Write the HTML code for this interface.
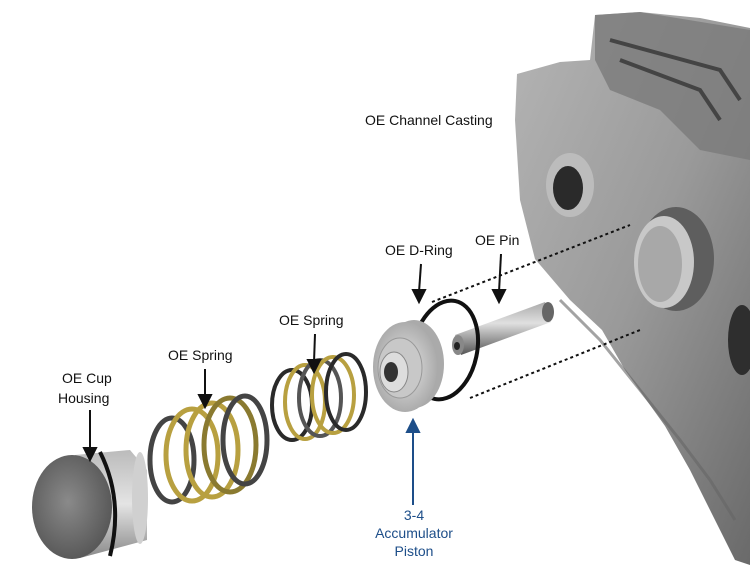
<!DOCTYPE html>
<html><head><meta charset="utf-8"><style>
html,body{margin:0;padding:0;background:#fff;}
svg{display:block}
text{font-family:"Liberation Sans",sans-serif;font-size:14px;fill:#111}
</style></head><body>
<svg width="750" height="580" viewBox="0 0 750 580" xmlns="http://www.w3.org/2000/svg">
<defs>
<linearGradient id="cast" x1="0" y1="0" x2="1" y2="1">
<stop offset="0" stop-color="#b4b4b4"/><stop offset="0.5" stop-color="#9a9a9a"/><stop offset="1" stop-color="#6a6a6a"/></linearGradient>
<radialGradient id="cup" cx="0.45" cy="0.45" r="0.6"><stop offset="0" stop-color="#8a8a8a"/><stop offset="1" stop-color="#555"/></radialGradient>
<linearGradient id="cupbody" x1="0" y1="0" x2="0" y2="1"><stop offset="0" stop-color="#bbb"/><stop offset="0.5" stop-color="#e4e4e4"/><stop offset="1" stop-color="#8a8a8a"/></linearGradient>
<radialGradient id="pist" cx="0.5" cy="0.5" r="0.6"><stop offset="0" stop-color="#e6e6e6"/><stop offset="1" stop-color="#a0a0a0"/></radialGradient>
<linearGradient id="pin" x1="0" y1="0" x2="0" y2="1"><stop offset="0" stop-color="#aaa"/><stop offset="0.4" stop-color="#e0e0e0"/><stop offset="1" stop-color="#555"/></linearGradient>
</defs>
<!-- casting -->
<path d="M595,15 L640,12 L700,18 L750,28 L750,565 L735,560 L715,520 L690,470 L665,426 L625,370 L602,330 L570,300 L535,259 L520,200 L515,120 L517,74 L560,62 L590,60 Z" fill="url(#cast)"/>
<path d="M595,15 L640,12 L750,30 L750,160 L700,150 L660,110 L610,90 L595,60 Z" fill="#7a7a7a" opacity="0.8"/>
<path d="M610,40 L720,70 L740,100 M620,60 L700,90 L720,120" stroke="#444" stroke-width="4" fill="none"/>
<path d="M560,300 L600,340 L640,390 L680,440 L710,480 L735,520" stroke="#666" stroke-width="3" fill="none" opacity="0.6"/>
<ellipse cx="676" cy="259" rx="38" ry="52" fill="#5e5e5e"/>
<ellipse cx="664" cy="262" rx="30" ry="46" fill="#c8c8c8"/>
<ellipse cx="660" cy="264" rx="22" ry="38" fill="#a8a8a8"/>
<ellipse cx="570" cy="185" rx="24" ry="32" fill="#bcbcbc"/>
<ellipse cx="568" cy="188" rx="15" ry="22" fill="#2a2a2a"/>
<ellipse cx="742" cy="340" rx="14" ry="35" fill="#2e2e2e"/>
<!-- dotted lines -->
<line x1="432" y1="302" x2="630" y2="225" stroke="#111" stroke-width="2" stroke-dasharray="3,3"/>
<line x1="470" y1="398" x2="640" y2="330" stroke="#111" stroke-width="2" stroke-dasharray="3,3"/>
<!-- pin -->
<polygon points="455,335 545,302 551,322 461,355" fill="url(#pin)"/>
<ellipse cx="548" cy="312" rx="6" ry="10" fill="#666"/>
<ellipse cx="458" cy="345" rx="6" ry="10" fill="#888"/>
<ellipse cx="457" cy="346" rx="3" ry="4" fill="#222"/>
<!-- D-ring -->
<ellipse cx="445" cy="350" rx="32" ry="50" transform="rotate(12 445 350)" fill="none" stroke="#111" stroke-width="4"/>
<!-- piston -->
<ellipse cx="414" cy="364" rx="30" ry="44" fill="#aaa"/>
<ellipse cx="405" cy="367" rx="32" ry="45" fill="url(#pist)"/>
<ellipse cx="400" cy="368" rx="22" ry="30" fill="#c8c8c8" stroke="#999"/>
<ellipse cx="394" cy="372" rx="14" ry="20" fill="#ddd" stroke="#888"/>
<ellipse cx="391" cy="372" rx="7" ry="10" fill="#333"/>
<!-- small spring -->
<g fill="none" stroke-width="4">
<ellipse cx="292" cy="405" rx="20" ry="35" stroke="#2a2a2a"/>
<ellipse cx="305" cy="402" rx="20" ry="37" stroke="#b8a040"/>
<ellipse cx="320" cy="398" rx="21" ry="38" stroke="#555" />
<ellipse cx="333" cy="395" rx="21" ry="38" stroke="#b8a040"/>
<ellipse cx="346" cy="392" rx="20" ry="38" stroke="#2a2a2a"/>
</g>
<!-- big spring -->
<g fill="none" stroke-width="5">
<ellipse cx="172" cy="460" rx="22" ry="42" stroke="#444"/>
<ellipse cx="192" cy="455" rx="26" ry="46" stroke="#b8a040"/>
<ellipse cx="212" cy="450" rx="26" ry="47" stroke="#b8a040"/>
<ellipse cx="230" cy="445" rx="26" ry="47" stroke="#8a7a30"/>
<ellipse cx="245" cy="440" rx="22" ry="44" stroke="#444"/>
</g>
<!-- cup housing -->
<path d="M75,455 L130,450 L147,470 L147,540 L80,558 Z" fill="url(#cupbody)"/>
<ellipse cx="140" cy="498" rx="8" ry="46" fill="#d0d0d0"/>
<path d="M100,452 Q124,500 110,556" stroke="#111" stroke-width="4" fill="none"/>
<ellipse cx="72" cy="507" rx="40" ry="52" fill="url(#cup)"/>
<!-- labels -->
<text x="365" y="125">OE Channel Casting</text>
<text x="385" y="255">OE D-Ring</text>
<text x="475" y="245">OE Pin</text>
<text x="279" y="325">OE Spring</text>
<text x="168" y="360">OE Spring</text>
<text x="62" y="383">OE Cup</text>
<text x="58" y="403">Housing</text>
<g text-anchor="middle"><text x="414" y="520" style="fill:#1d4e89">3-4</text><text x="414" y="538" style="fill:#1d4e89">Accumulator</text><text x="414" y="556" style="fill:#1d4e89">Piston</text></g>
<!-- arrows -->
<g stroke="#111" stroke-width="2" fill="#111">
<line x1="421" y1="264" x2="419" y2="292"/><polygon points="413,290 425,290 419,302"/>
<line x1="501" y1="254" x2="499" y2="292"/><polygon points="493,290 505,290 499,302"/>
<line x1="315" y1="334" x2="314" y2="362"/><polygon points="308,360 320,360 314,372"/>
<line x1="205" y1="369" x2="205" y2="397"/><polygon points="199,395 211,395 205,407"/>
<line x1="90" y1="410" x2="90" y2="450"/><polygon points="84,448 96,448 90,460"/>
</g>
<g stroke="#1d4e89" stroke-width="2" fill="#1d4e89">
<line x1="413" y1="505" x2="413" y2="430"/><polygon points="407,432 419,432 413,420"/>
</g>
</svg>
</body></html>
